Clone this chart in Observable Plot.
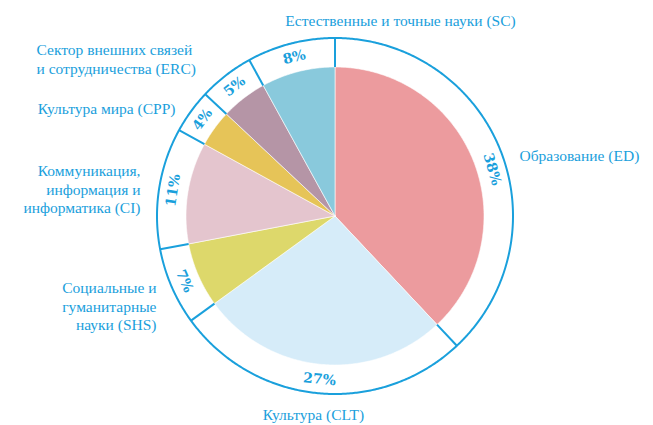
<!DOCTYPE html>
<html>
<head>
<meta charset="utf-8">
<script src="https://cdn.jsdelivr.net/npm/d3@7"></script>
<script src="https://cdn.jsdelivr.net/npm/@observablehq/plot@0.6"></script>
<style>
  html, body { margin: 0; padding: 0; background: #fff; }
  #chart { width: 653px; height: 425px; }
</style>
</head>
<body>
<div id="chart"></div>
<script>
// ---- data ----
const codes = ["ED", "CLT", "SHS", "CI", "CPP", "ERC", "SC"];
const categoryLabels = [
  "Образование (ED)",
  "Культура (CLT)",
  "Социальные и\nгуманитарные\nнауки (SHS)",
  "Коммуникация,\nинформация и\nинформатика (CI)",
  "Культура мира (CPP)",
  "Сектор внешних связей\nи сотрудничества (ERC)",
  "Естественные и точные науки (SC)"
];
const shares = [38, 27, 7, 11, 4, 5, 8];
const percentLabels = ["38%", "27%", "7%", "11%", "4%", "5%", "8%"];

// ---- styles / layout ----
const sliceColors = ["#ec9b9e", "#d6ecf9", "#ddd86b", "#e4c5ce", "#e6c458", "#b595a6", "#89c9dc"];
const blue = "#1aa0dc";
const W = 653, H = 425;
const cx = 334.5, cy = 215.5, rPx = 149;   // pie centre & radius in pixels
const ringR = 178 / rPx;                    // outer ring radius (pie radius = 1)
const labelR = 164 / rPx;                   // radius of percentage labels
// category label anchors in pixels
const labelLayout = {
  ED:  {x: 519, y: 154, anchor: "start"},
  CLT: {x: 313, y: 413, anchor: "middle"},
  SHS: {x: 156, y: 305, anchor: "end"},
  CI:  {x: 140, y: 188, anchor: "end"},
  CPP: {x: 175, y: 107, anchor: "end"},
  ERC: {x: 36,  y: 58,  anchor: "start"},
  SC:  {x: 400, y: 19,  anchor: "middle"}
};
const pctAngleNudge = {ED: 5};

// ---- derived geometry ----
const total = d3.sum(shares);
const rad = a => a * Math.PI / 180;
const px = a => Math.sin(rad(a)), py = a => Math.cos(rad(a));
let acc = 0;
const slices = codes.map((code, i) => {
  const a0 = acc / total * 360;
  acc += shares[i];
  const a1 = acc / total * 360;
  return {code, a0, a1, mid: (a0 + a1) / 2, pct: percentLabels[i], label: categoryLabels[i]};
});

const slicePts = [];
for (const s of slices) {
  slicePts.push({code: s.code, x: 0, y: 0});
  const n = Math.max(2, Math.ceil((s.a1 - s.a0) / 0.5));
  for (let k = 0; k <= n; k++) {
    const a = s.a0 + (s.a1 - s.a0) * k / n;
    slicePts.push({code: s.code, x: px(a), y: py(a)});
  }
  slicePts.push({code: s.code, x: 0, y: 0});
}

const ringPts = d3.range(0, 361, 0.5).map(a => ({x: ringR * px(a), y: ringR * py(a)}));

const dividers = slices.map(s => ({
  x1: px(s.a0), y1: py(s.a0), x2: ringR * px(s.a0), y2: ringR * py(s.a0)
}));

const pctData = slices.map(s => {
  const a = s.mid + (pctAngleNudge[s.code] || 0);
  let rot = a;
  if (a > 90 && a < 270) rot = a - 180;
  else if (a >= 270) rot = a - 360;
  return {x: labelR * px(a), y: labelR * py(a), text: s.pct, rotate: rot};
});

const catData = slices.map(s => {
  const L = labelLayout[s.code];
  return {x: (L.x - cx) / rPx, y: (cy - L.y) / rPx, text: s.label, anchor: L.anchor};
});

const chart = Plot.plot({
  width: W,
  height: H,
  margin: 0,
  x: {domain: [-cx / rPx, (W - cx) / rPx], axis: null},
  y: {domain: [-(H - cy) / rPx, cy / rPx], axis: null},
  color: {domain: codes, range: sliceColors},
  style: {background: "#fff"},
  marks: [
    Plot.line(slicePts, {x: "x", y: "y", z: "code", fill: "code", stroke: "#fff", strokeWidth: 0.6, curve: "linear"}),
    Plot.line(ringPts, {x: "x", y: "y", stroke: blue, strokeWidth: 2, curve: "linear"}),
    Plot.link(dividers, {x1: "x1", y1: "y1", x2: "x2", y2: "y2", stroke: blue, strokeWidth: 2}),
    Plot.text(pctData, {x: "x", y: "y", text: "text", rotate: "rotate", fill: blue,
      fontFamily: "DejaVu Serif", fontWeight: "bold", fontSize: 14}),
    ...["start", "middle", "end"].map(anchor =>
      Plot.text(catData.filter(d => d.anchor === anchor), {x: "x", y: "y", text: "text",
        textAnchor: anchor, lineAnchor: "middle", lineHeight: 1.22, fill: blue,
        fontFamily: "Liberation Serif", fontSize: 15.5}))
  ]
});
document.getElementById("chart").appendChild(chart);
</script>
</body>
</html>
